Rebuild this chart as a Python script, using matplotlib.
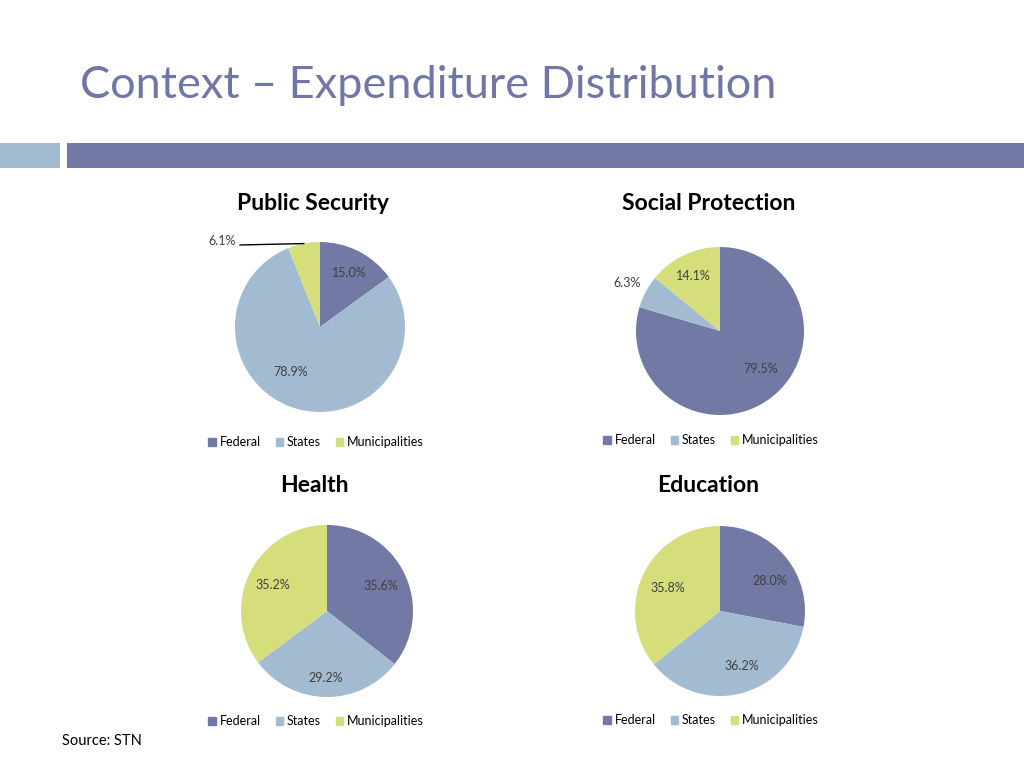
import numpy as np
import matplotlib.pyplot as plt
from matplotlib.patches import Rectangle

# Datos
sectores = ['Federal', 'States', 'Municipalities']
titulos = ['Public Security', 'Social Protection', 'Health', 'Education']
public_security = [15.0, 78.9, 6.1]
social_protection = [79.5, 6.3, 14.1]
health = [35.6, 29.2, 35.2]
education = [28.0, 36.2, 35.8]
valores = [public_security, social_protection, health, education]

colores = ['#7279A4', '#A3BBD0', '#D5DE7A']

# Layout (pixels): pie center, radius, title y, legend y
W, H = 1024, 768
centros = [(320, 327), (720, 331), (327, 611), (720, 611)]
radios = [85, 84, 86, 85]
titulo_pos = [(313, 204), (709, 204), (314, 486), (708, 486)]
leyenda_pos = [(316, 442), (711, 440), (316, 721), (711, 720)]
# label offsets in pie radius units
etiquetas_pos = [
    [(0.35, 0.64), (-0.34, -0.53), (-1.15, 1.01)],
    [(0.49, -0.45), (-1.11, 0.57), (-0.32, 0.65)],
    [(0.63, 0.29), (-0.01, -0.78), (-0.63, 0.30)],
    [(0.58, 0.35), (0.26, -0.65), (-0.62, 0.27)],
]

plt.rcParams['font.family'] = ['Lato', 'DejaVu Sans']
fig = plt.figure(figsize=(W / 100, H / 100), dpi=100)
fig.patch.set_facecolor('white')

# Header
fig.text(80 / W, 1 - 85 / H, 'Context \u2013 Expenditure Distribution',
         fontsize=32.5, color='#6F77A8', va='center', ha='left')
fig.add_artist(Rectangle((0, 1 - 168 / H), 60 / W, 25 / H, transform=fig.transFigure,
                         color='#A3BBD0', lw=0))
fig.add_artist(Rectangle((67 / W, 1 - 168 / H), 1 - 67 / W, 25 / H, transform=fig.transFigure,
                         color='#7279A4', lw=0))

for i in range(4):
    cx, cy = centros[i]
    r = radios[i]
    ax = fig.add_axes([(cx - r) / W, 1 - (cy + r) / H, 2 * r / W, 2 * r / H])
    wedges, _, autotexts = ax.pie(valores[i], colors=colores, startangle=90,
                                  counterclock=False, autopct='%.1f%%',
                                  wedgeprops=dict(linewidth=0),
                                  textprops=dict(fontsize=9, color='#404040'))
    ax.set_xlim(-1, 1)
    ax.set_ylim(-1, 1)
    for t, v, (dx, dy) in zip(autotexts, valores[i], etiquetas_pos[i]):
        t.set_text(f'{v:.1f}%')
        t.set_position((dx, dy))
        t.set_ha('center')
        t.set_va('center')
    if i == 0:
        # leader line for the small slice
        w = wedges[2]
        ang = np.deg2rad((w.theta1 + w.theta2) / 2)
        ax.plot([-0.94, np.cos(ang)], [0.965, np.sin(ang)], color='black', lw=1,
                clip_on=False)
    tx, ty = titulo_pos[i]
    fig.text(tx / W, 1 - ty / H, titulos[i], fontsize=16.5, fontweight='bold',
             ha='center', va='center', color='black')
    lx, ly = leyenda_pos[i]
    handles = [Rectangle((0, 0), 1, 1, color=c) for c in colores]
    ax.legend(handles, sectores, loc='center', bbox_to_anchor=(lx / W, 1 - ly / H),
              bbox_transform=fig.transFigure, ncol=3, frameon=False, fontsize=9,
              handlelength=0.6, handleheight=0.6, handletextpad=0.3,
              columnspacing=1.2)

fig.text(62 / W, 1 - 741 / H, 'Source: STN', fontsize=10.5, ha='left', va='center',
         color='black')

fig.savefig('out.png', dpi=100)
